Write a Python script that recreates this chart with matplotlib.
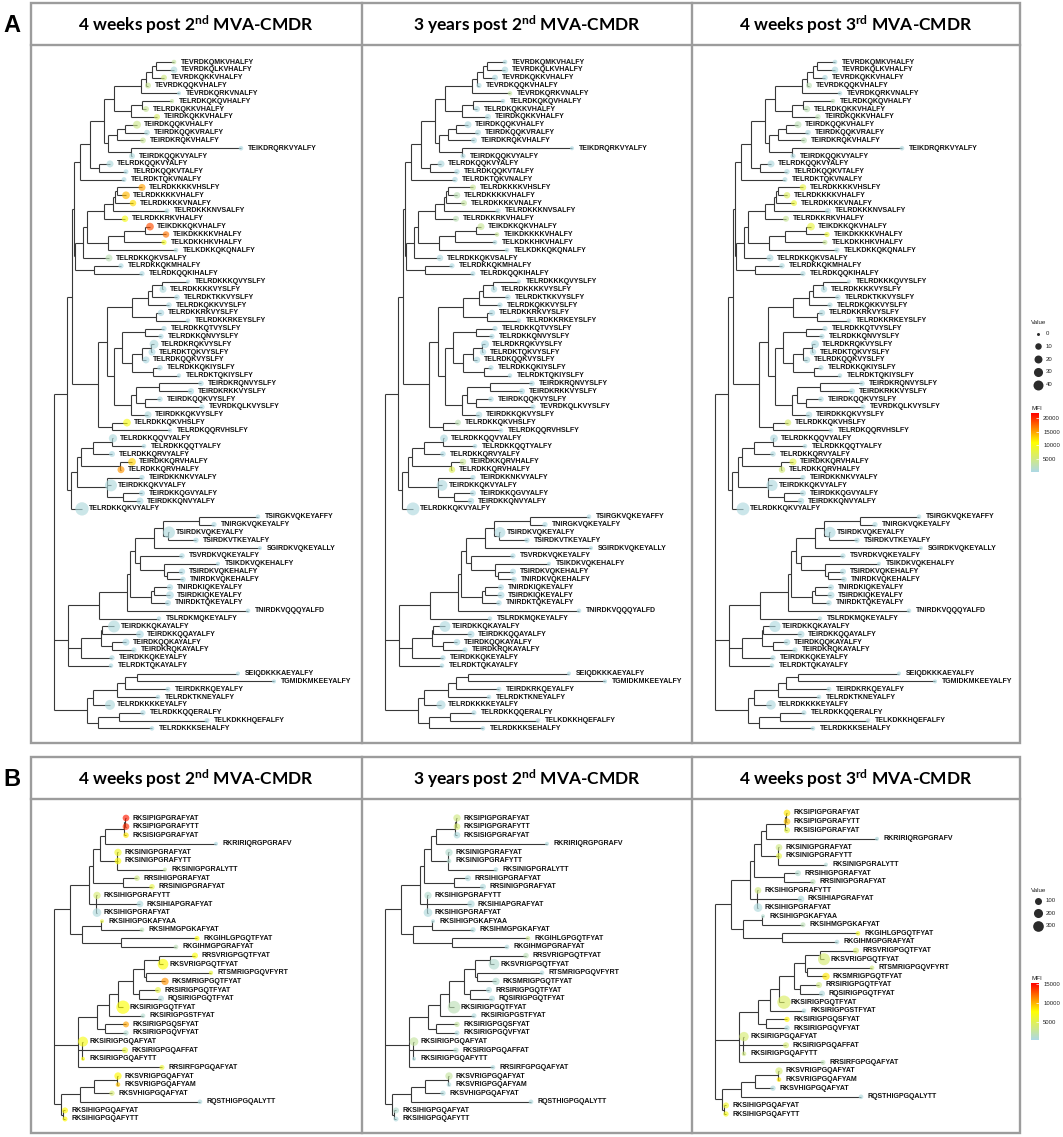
import matplotlib
matplotlib.use("Agg")
import matplotlib.pyplot as plt
from matplotlib.colors import LinearSegmentedColormap, Normalize
from matplotlib.collections import LineCollection
from matplotlib.cm import ScalarMappable
from matplotlib.patches import Rectangle

# ---------------- DATA ----------------
col_titles = ["4 weeks post 2", "3 years post 2", "4 weeks post 3"]
col_sups = ["nd", "nd", "rd"]
col_suffix = " MVA-CMDR"
panel_letters = ["A", "B"]

labels_A = [
    "TEVRDKQMKVHALFY", "TEVRDKQLKVHALFY", "TEVRDKQKKVHALFY", "TEVRDKQQKVHALFY", "TEVRDKQRKVNALFY",
    "TELRDKQKQVHALFY", "TELRDKQKKVHALFY", "TEIRDKQKKVHALFY", "TEIRDKQQKVHALFY", "TEIRDKQQKVRALFY",
    "TEIRDKRQKVHALFY", "TEIKDRQRKVYALFY", "TEIRDKQQKVYALFY", "TELRDKQQKVYALFY", "TELRDKQQKVTALFY",
    "TELRDKTQKVNALFY", "TELRDKKKKVHSLFY", "TELRDKKKKVHALFY", "TELRDKKKKVNALFY", "TELRDKKKNVSALFY",
    "TELRDKKRKVHALFY", "TEIKDKKQKVHALFY", "TEIKDKKKKVHALFY", "TELKDKKHKVHALFY", "TELKDKKQKQNALFY",
    "TELRDKKQKVSALFY", "TELRDKKQKMHALFY", "TELRDKQQKIHALFY", "TELRDKKKQVYSLFY", "TELRDKKKKVYSLFY",
    "TELRDKTKKVYSLFY", "TELRDKQKKVYSLFY", "TELRDKKRKVYSLFY", "TELRDKKRKEYSLFY", "TELRDKKQTVYSLFY",
    "TELRDKKQNVYSLFY", "TELRDKRQKVYSLFY", "TELRDKTQKVYSLFY", "TELRDKQQKVYSLFY", "TELRDKKQKIYSLFY",
    "TELRDKTQKIYSLFY", "TEIRDKRQNVYSLFY", "TEIRDKRKKVYSLFY", "TEIRDKQQKVYSLFY", "TEVRDKQLKVYSLFY",
    "TEIRDKKQKVYSLFY", "TELRDKKQKVHSLFY", "TELRDKQQRVHSLFY", "TELRDKKQQVYALFY", "TELRDKKQQTYALFY",
    "TELRDKKQRVYALFY", "TEIRDKKQRVHALFY", "TELRDKKQRVHALFY", "TEIRDKKNKVYALFY", "TEIRDKKQKVYALFY",
    "TEIRDKKQGVYALFY", "TEIRDKKQNVYALFY", "TELRDKKQKVYALFY", "TSIRGKVQKEYAFFY", "TNIRGKVQKEYALFY",
    "TSIRDKVQKEYALFY", "TSIRDKVTKEYALFY", "SGIRDKVQKEYALLY", "TSVRDKVQKEYALFY", "TSIKDKVQKEHALFY",
    "TSIRDKVQKEHALFY", "TNIRDKVQKEHALFY", "TNIRDKIQKEYALFY", "TSIRDKIQKEYALFY", "TNIRDKTQKEYALFY",
    "TNIRDKVQQQYALFD", "TSLRDKMQKEYALFY", "TEIRDKKQKAYALFY", "TEIRDKKQQAYALFY", "TEIRDKQQKAYALFY",
    "TEIRDKRQKAYALFY", "TEIRDKKQKEYALFY", "TELRDKTQKAYALFY", "SEIQDKKKAEYALFY", "TGMIDKMKEEYALFY",
    "TEIRDKRKQEYALFY", "TELRDKTKNEYALFY", "TELRDKKKKEYALFY", "TELRDKKQQERALFY", "TELKDKKHQEFALFY",
    "TELRDKKKSEHALFY",
]

labels_B = [
    "RKSIPIGPGRAFYAT", "RKSIPIGPGRAFYTT", "RKSISIGPGRAFYAT", "RKRIRIQRGPGRAFV", "RKSINIGPGRAFYAT",
    "RKSINIGPGRAFYTT", "RKSINIGPGRALYTT", "RRSIHIGPGRAFYAT", "RRSINIGPGRAFYAT", "RKSIHIGPGRAFYTT",
    "RKSIHIAPGRAFYAT", "RKSIHIGPGRAFYAT", "RKSIHIGPGKAFYAA", "RKSIHMGPGKAFYAT", "RKGIHLGPGQTFYAT",
    "RKGIHMGPGRAFYAT", "RRSVRIGPGQTFYAT", "RKSVRIGPGQTFYAT", "RTSMRIGPGQVFYRT", "RKSMRIGPGQTFYAT",
    "RRSIRIGPGQTFYAT", "RQSIRIGPGQTFYAT", "RKSIRIGPGQTFYAT", "RKSIRIGPGSTFYAT", "RKSIRIGPGQSFYAT",
    "RKSIRIGPGQVFYAT", "RKSIRIGPGQAFYAT", "RKSIRIGPGQAFFAT", "RKSIRIGPGQAFYTT", "RRSIRFGPGQAFYAT",
    "RKSVRIGPGQAFYAT", "RKSVRIGPGQAFYAM", "RKSVHIGPGQAFYAT", "RQSTHIGPGQALYTT", "RKSIHIGPGQAFYAT",
    "RKSIHIGPGQAFYTT",
]

# ---- Tree A: Newick clades (leaf name = index in labels_A, branch lengths) ----
a_n15 = "((((0:18,1:18):4,2:12):6,3:2):5,4:38)"
a_n18 = "(" + a_n15 + ":27,((5:30,6:4):11,7:26):17)"
a_n913 = "(((8:12,9:22):8,10:26):9,(11:110,12:1):23)"
a_n113 = "(" + a_n18 + ":10," + a_n913 + ":4)"
a_n115 = "(" + a_n113 + ":14,(13:11,14:27):9)"
a_GIa = "(" + a_n115 + ":10,15:44)"
a_n1721 = "((((16:25,17:9):2,18:18):2,19:54):9,20:21)"
a_n2225 = "(((21:5,22:21):21,23:40):16,24:68)"
a_n1726 = "((" + a_n1721 + ":17," + a_n2225 + ":21):4,25:26)"
a_GIb = "(" + a_n1726 + ":8,(26:27,27:48):19)"
a_GI = "(" + a_GIa + ":6," + a_GIb + ":1)"
a_n2934 = "((((28:26,29:1):10,30:25):4,31:21):16,(32:5,33:32):24)"
a_n3741 = "(((36:3,37:1):9,38:4):10,(39:7,40:26):21)"
a_n3541 = "((34:19,35:16):23," + a_n3741 + ":10)"
a_n4246 = "(((41:42,42:32):23,(43:15,44:57):9):5,45:17)"
a_n3546 = "(" + a_n3541 + ":8," + a_n4246 + ":17)"
a_GII = "((" + a_n2934 + ":25," + a_n3546 + ":7):9,(46:15,47:58):14)"
a_G12 = "(" + a_GI + ":2," + a_GII + ":26)"
a_n4953 = "(((48:1,49:32):19,50:19):12,(51:12,52:1):39)"
a_n5457 = "(53:35,54:4,(55:19,56:17):16)"
a_GIII = "((" + a_n4953 + ":4," + a_n5457 + ":30):6,57:11)"
a_G123 = "(" + a_G12 + ":5," + a_GIII + ":4)"
a_n5963 = "(((58:59,59:15):36,(60:1,61:28):5):9,62:106)"
a_n6467 = "(63:42,(64:54,(65:15,66:16):3):24)"
a_n5967 = "(" + a_n5963 + ":19," + a_n6467 + ":5)"
a_n5970 = "(" + a_n5967 + ":5,((67:16,68:16):3,69:17):21)"
a_cladeA = "((" + a_n5970 + ":3,70:121):28,71:60)"
a_cladeB = "(((72:12,73:38):1,(74:14,75:22):11):20,76:31)"
a_GIV = "(" + a_cladeA + ":31," + a_cladeB + ":13,77:43)"
a_GV = "(((((78:101,79:137):12,80:43):8,81:41):24,82:17):6,((83:24,84:88):21,85:54):11)"
newick_A = "(" + a_G123 + ":13," + a_GIV + ":14," + a_GV + ":33);"

# ---- Tree B ----
b_n14 = "(((0:1,1:1):1,2:2):19,3:111)"
b_n17 = "(" + b_n14 + ":5,(4:1,5:1,6:48):17)"
b_n19 = "(" + b_n17 + ":7,(7:14,8:29):30)"
b_n112 = "(" + b_n19 + ":4,(9:1,10:44,11:1):7)"
b_n116 = "(" + b_n112 + ":19,((12:1,13:41):19,(14:76,15:55):39):12)"
b_n1722 = "(((16:36,17:4):15,(18:65,19:19):2):11,(20:19,21:22):6)"
b_n1724 = "((" + b_n1722 + ":15,22:5):9,23:34)"
b_n1726 = "(" + b_n1724 + ":12,(24:21,25:21):8)"
b_n1730 = "(" + b_n1726 + ":19,(26:1,27:43,28:1):4,29:84)"
b_n3136 = "((((30:1,31:1):23,32:18):14,33:120):19,(34:2,35:2):2)"
newick_B = "(" + b_n116 + ":16," + b_n1730 + ":24," + b_n3136 + ":7);"

# Panel A: "Value" (point size) and MFI (colour) per column
A_value = [
    [2, 11, 7, 7, 1, 1.5, 7, 7, 20, 6, 6, 2, 7, 13, 3, 3, 13, 18, 10, 3,
     10, 18, 10, 4, 2, 13, 4, 4, 1, 13, 5, 5, 10, 2, 4, 4, 28, 13, 13, 5,
     1.5, 5, 9, 5, 4, 13, 18, 1.5, 23, 2, 7, 18, 13, 4, 66, 7, 13, 87, 2, 4,
     66, 4, 1, 5, 1, 9, 5, 9, 18, 7, 2, 2, 66, 18, 13, 4, 4, 2, 1, 1,
     3, 2, 40, 4, 3, 2],
    [2, 10, 7, 4, 2, 2, 7, 7, 13, 7, 7, 1, 4, 13, 5, 5, 7, 10, 7, 4,
     7, 13, 2, 2, 2, 10, 4, 3, 1, 10, 5, 4, 9, 2, 4, 4, 20, 10, 10, 4,
     2, 5, 7, 5, 4, 10, 7, 2, 18, 2, 5, 10, 10, 4, 50, 7, 10, 80, 2, 4,
     50, 4, 1, 4, 1, 7, 5, 7, 13, 5, 2, 2, 50, 13, 10, 4, 4, 2, 1, 1,
     3, 2, 30, 3, 2, 2],
    [2, 10, 5, 7, 2, 2, 10, 5, 13, 5, 7, 2, 4, 13, 5, 3, 10, 10, 7, 7,
     7, 18, 4, 3, 4, 13, 5, 4, 1, 10, 5, 4, 9, 2, 4, 4, 20, 10, 10, 4,
     2, 5, 7, 5, 4, 10, 10, 2, 18, 2, 5, 13, 10, 4, 55, 7, 10, 80, 2, 4,
     55, 4, 1, 4, 1, 7, 5, 7, 13, 5, 2, 2, 55, 13, 10, 4, 4, 2, 1, 1,
     3, 2, 35, 3, 2, 2],
]
A_mfi = [
    [3500, 800, 5000, 4000, 500, 3500, 4000, 6000, 4500, 800,
     4000, 500, 800, 800, 500, 500, 15000, 14000, 12500, 800,
     10000, 18500, 17000, 9500, 800, 2500, 500, 500, 500, 800,
     500, 500, 500, 500, 500, 500, 800, 500, 500, 500,
     500, 500, 500, 500, 500, 800, 10000, 500, 800, 500,
     500, 13000, 15500, 500, 800, 500, 500, 800, 500, 500,
     800, 500, 500, 500, 500, 500, 500, 500, 500, 500,
     500, 500, 800, 500, 500, 500, 500, 500, 500, 500,
     500, 500, 800, 500, 500, 500],
    [700, 700, 700, 700, 3500, 700, 700, 700, 700, 700,
     700, 500, 700, 700, 500, 500, 4000, 2500, 3500, 700,
     2500, 4000, 4000, 700, 700, 700, 500, 500, 500, 700,
     500, 500, 500, 500, 500, 500, 500, 500, 500, 500,
     500, 500, 500, 500, 500, 700, 2500, 500, 700, 500,
     500, 4000, 7000, 500, 700, 500, 500, 700, 500, 500,
     700, 500, 500, 500, 500, 500, 500, 500, 500, 500,
     500, 500, 700, 500, 500, 500, 500, 500, 500, 500,
     500, 500, 700, 500, 500, 500],
    [700, 700, 700, 2500, 700, 2500, 2500, 2500, 2500, 700,
     2500, 700, 700, 700, 700, 700, 8000, 6500, 8500, 700,
     4000, 8000, 8500, 4000, 700, 700, 700, 700, 700, 700,
     700, 700, 700, 700, 700, 700, 700, 700, 700, 700,
     700, 700, 700, 700, 700, 700, 6000, 700, 700, 700,
     700, 7500, 5500, 700, 700, 700, 700, 700, 700, 700,
     700, 700, 700, 700, 700, 700, 700, 700, 700, 700,
     700, 700, 700, 700, 700, 700, 700, 700, 700, 700,
     700, 700, 700, 700, 700, 700],
]

B_value = [
    [87, 87, 50, 16, 114, 87, 16, 50, 50, 114, 87, 178, 16, 28, 36, 28, 64, 300,
     22, 114, 64, 64, 512, 28, 64, 44, 256, 64, 16, 36, 114, 28, 44, 28, 64, 36],
    [114, 87, 87, 16, 114, 28, 28, 64, 64, 114, 114, 178, 16, 44, 28, 28, 50, 300,
     28, 114, 64, 64, 450, 36, 44, 36, 178, 44, 16, 28, 114, 28, 44, 28, 64, 36],
    [87, 87, 64, 16, 87, 64, 16, 64, 44, 87, 87, 178, 16, 36, 28, 28, 64, 400,
     28, 114, 64, 64, 512, 28, 44, 44, 220, 64, 28, 36, 114, 28, 44, 28, 64, 44],
]
B_mfi = [
    [14500, 14000, 8500, 400, 6500, 7500, 2500, 3500, 5500, 4000, 600, 600,
     5500, 1800, 7500, 1800, 7500, 7500, 6000, 11000, 5500, 600, 7500, 1000,
     10500, 1000, 7000, 6000, 7500, 6000, 8000, 9500, 4000, 600, 8000, 8000],
    [3500, 4000, 600, 600, 1000, 1000, 600, 600, 600, 1000, 600, 600,
     600, 600, 3000, 600, 1800, 1000, 600, 1000, 600, 600, 1800, 600,
     2500, 600, 2500, 1000, 600, 600, 2500, 600, 600, 600, 1000, 600],
    [8500, 9500, 5500, 600, 3500, 5500, 800, 1000, 1800, 3500, 600, 600,
     1000, 1800, 6500, 600, 4000, 4000, 3500, 8500, 3500, 600, 4500, 600,
     8000, 600, 4000, 4000, 3500, 1800, 4000, 8500, 600, 600, 6500, 7000],
]

A_mfi_range = (300, 21800)
B_mfi_range = (260, 15300)
A_mfi_ticks = [5000, 10000, 15000, 20000]
B_mfi_ticks = [5000, 10000, 15000]
A_size_breaks = [0, 10, 20, 30, 40]
B_size_breaks = [100, 200, 300]

# ---------------- HELPERS ----------------
plt.rcParams['mathtext.fontset'] = 'custom'
plt.rcParams['mathtext.rm'] = 'Lato:bold'
plt.rcParams['mathtext.bf'] = 'Lato:bold'
plt.rcParams['mathtext.it'] = 'Lato:bold'

W, H = 1063, 1137
fig = plt.figure(figsize=(W / 100, H / 100), dpi=100)
cmap = LinearSegmentedColormap.from_list("mfi", ["#ADD8E6", "#FFFF00", "#FF0000"])
LABEL_FONT = dict(family="Liberation Sans", weight="bold")


def parse_newick(s):
    s = s.strip().rstrip(';')
    pos = 0

    def node():
        nonlocal pos
        nd = {'children': [], 'name': None, 'len': 0.0}
        if s[pos] == '(':
            pos += 1
            while True:
                nd['children'].append(node())
                if s[pos] == ',':
                    pos += 1
                    continue
                pos += 1  # ')'
                break
        st = pos
        while pos < len(s) and s[pos] not in ':,()':
            pos += 1
        if s[st:pos]:
            nd['name'] = s[st:pos]
        if pos < len(s) and s[pos] == ':':
            pos += 1
            st = pos
            while pos < len(s) and s[pos] not in ',()':
                pos += 1
            nd['len'] = float(s[st:pos])
        return nd
    return node()


def layout(nd, depth, leaves, segs):
    nd['x'] = depth
    if not nd['children']:
        nd['y'] = float(len(leaves))
        leaves.append(nd)
        return
    for c in nd['children']:
        layout(c, depth + c['len'], leaves, segs)
    ys = [c['y'] for c in nd['children']]
    nd['y'] = sum(ys) / len(ys)
    segs.append([(depth, min(ys)), (depth, max(ys))])
    for c in nd['children']:
        segs.append([(depth, c['y']), (c['x'], c['y'])])


def px2pt2(d):
    return (d * 0.72) ** 2


def size_A(v):
    return px2pt2(3 + 1.107 * v ** 0.5)


def size_B(v):
    return px2pt2(2 + 0.5 * v ** 0.5)


def to_fig(x0, y0, w, h):
    return [x0 / W, 1 - (y0 + h) / H, w / W, h / H]


# background / frames
bg = fig.add_axes([0, 0, 1, 1])
bg.set_xlim(0, W)
bg.set_ylim(H, 0)
bg.axis('off')

col_edges = [31, 362, 692, 1020]
panels = [
    dict(top=3, head=45, bottom=743, first=[62, 62, 62], step=7.84, newick=newick_A, labels=labels_A,
         values=A_value, mfis=A_mfi, rng=A_mfi_range, sizef=size_A, ticks=A_mfi_ticks,
         breaks=A_size_breaks, leg_y=323, leg_step=12.7, mfi_y=409, bar=(413, 472)),
    dict(top=757, head=799, bottom=1133, first=[818, 818, 813], step=8.6, newick=newick_B, labels=labels_B,
         values=B_value, mfis=B_mfi, rng=B_mfi_range, sizef=size_B, ticks=B_mfi_ticks,
         breaks=B_size_breaks, leg_y=890, leg_step=12.5, mfi_y=978, bar=(983, 1040)),
]

frame_col = "#9c9c9c"
for pi, P in enumerate(panels):
    bg.add_patch(Rectangle((col_edges[0], P['top']), col_edges[-1] - col_edges[0],
                           P['bottom'] - P['top'], fill=False, ec=frame_col, lw=1.7))
    bg.plot([col_edges[0], col_edges[-1]], [P['head'], P['head']], color=frame_col, lw=1.7)
    for xe in col_edges[1:-1]:
        bg.plot([xe, xe], [P['top'], P['bottom']], color=frame_col, lw=1.7)
    bg.text(12, (P['top'] + P['head']) / 2 + 1, panel_letters[pi], fontsize=17,
            family="Liberation Sans", weight="bold", ha='center', va='center')
    for ci in range(3):
        cx = (col_edges[ci] + col_edges[ci + 1]) / 2
        bg.text(cx, (P['top'] + P['head']) / 2 + 1,
                col_titles[ci] + r"$^{\mathrm{" + col_sups[ci] + "}}$" + col_suffix,
                fontsize=12.5, family="Lato", weight="bold", ha='center', va='center')

    norm = Normalize(*P['rng'])
    for ci in range(3):
        root = parse_newick(P['newick'])
        leaves, segs = [], []
        layout(root, 0.0, leaves, segs)
        x0 = col_edges[ci]
        first = P['first'][ci]
        ax = fig.add_axes(to_fig(x0, P['head'], 330, P['bottom'] - P['head']))
        ax.axis('off')
        ax.set_xlim(-23, 307)
        ax.set_ylim((P['bottom'] - first) / P['step'], -(first - P['head']) / P['step'])
        ax.add_collection(LineCollection(segs, colors="#383838", linewidths=0.8, zorder=1))
        idx = [int(l['name']) for l in leaves]
        xs = [l['x'] for l in leaves]
        ys = [l['y'] for l in leaves]
        vals = [P['values'][ci][i] for i in idx]
        cols = [cmap(norm(P['mfis'][ci][i])) for i in idx]
        ax.scatter(xs, ys, s=[P['sizef'](v) for v in vals], c=cols, alpha=0.65,
                   linewidths=0, zorder=2, clip_on=False)
        for x, y, i in zip(xs, ys, idx):
            ax.annotate(P['labels'][i], (x, y), xytext=(5, 0), textcoords='offset points',
                        va='center', ha='left', fontsize=5, color="#111111", **LABEL_FONT)

    # legends
    bg.text(1031, P['leg_y'], "Value", fontsize=4.5, family="Liberation Sans",
            ha='left', va='center', color="#222222")
    for k, b in enumerate(P['breaks']):
        yy = P['leg_y'] + P['leg_step'] * (k + 0.85)
        bg.scatter([1038], [yy], s=[P['sizef'](b)], color="#2b2b2b", linewidths=0)
        bg.text(1046, yy, str(b), fontsize=4.3, family="Liberation Sans",
                ha='left', va='center', color="#222222")
    bg.text(1031, P['mfi_y'], "MFI", fontsize=4.5, family="Liberation Sans",
            ha='left', va='center', color="#222222")
    b0, b1 = P['bar']
    cax = fig.add_axes(to_fig(1031, b0, 8, b1 - b0))
    cb = fig.colorbar(ScalarMappable(norm=norm, cmap=cmap), cax=cax, ticks=P['ticks'])
    cb.outline.set_visible(False)
    cax.tick_params(length=2, color="white", width=0.5, direction='in', labelsize=4.3,
                    pad=3, labelcolor="#222222")
    cax.set_yticklabels([str(t) for t in P['ticks']], family="Liberation Sans")

fig.savefig("out.png", dpi=100)
